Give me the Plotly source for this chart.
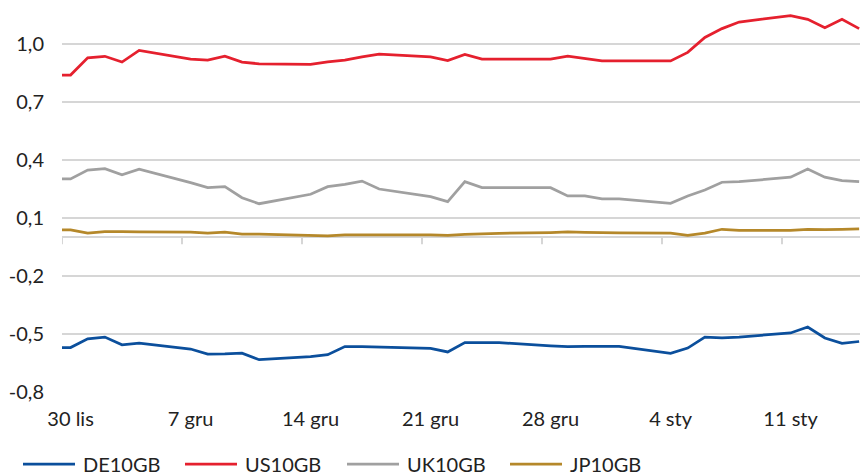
import pandas as pd
import plotly.graph_objects as go

# Trading days (holidays carry the previous close)
dates = [
    "2020-11-29", "2020-11-30", "2020-12-01", "2020-12-02", "2020-12-03", "2020-12-04",
    "2020-12-07", "2020-12-08", "2020-12-09", "2020-12-10", "2020-12-11",
    "2020-12-14", "2020-12-15", "2020-12-16", "2020-12-17", "2020-12-18",
    "2020-12-21", "2020-12-22", "2020-12-23", "2020-12-24", "2020-12-25",
    "2020-12-28", "2020-12-29", "2020-12-30", "2020-12-31", "2021-01-01",
    "2021-01-04", "2021-01-05", "2021-01-06", "2021-01-07", "2021-01-08",
    "2021-01-11", "2021-01-12", "2021-01-13", "2021-01-14", "2021-01-15",
]

de10 = [
    -0.570, -0.570, -0.525, -0.516, -0.556, -0.547,
    -0.578, -0.604, -0.603, -0.599, -0.633,
    -0.617, -0.607, -0.565, -0.566, -0.568,
    -0.575, -0.593, -0.545, -0.545, -0.545,
    -0.562, -0.566, -0.564, -0.564, -0.564,
    -0.600, -0.573, -0.516, -0.520, -0.516,
    -0.495, -0.464, -0.521, -0.549, -0.539,
]

us10 = [
    0.838, 0.838, 0.927, 0.935, 0.905, 0.965,
    0.920, 0.915, 0.935, 0.905, 0.896,
    0.893, 0.906, 0.915, 0.932, 0.946,
    0.932, 0.913, 0.944, 0.920, 0.920,
    0.920, 0.936, 0.924, 0.911, 0.911,
    0.911, 0.955, 1.032, 1.078, 1.112,
    1.145, 1.126, 1.082, 1.126, 1.078,
]

uk10 = [
    0.301, 0.301, 0.347, 0.354, 0.323, 0.352,
    0.282, 0.256, 0.261, 0.204, 0.173,
    0.222, 0.261, 0.273, 0.290, 0.249,
    0.210, 0.184, 0.287, 0.256, 0.256,
    0.256, 0.213, 0.213, 0.198, 0.198,
    0.175, 0.213, 0.244, 0.284, 0.287,
    0.310, 0.352, 0.310, 0.292, 0.287,
]

jp10 = [
    0.038, 0.038, 0.021, 0.029, 0.029, 0.027,
    0.026, 0.021, 0.026, 0.016, 0.016,
    0.012, 0.007, 0.012, 0.013, 0.012,
    0.012, 0.010, 0.015, 0.019, 0.020,
    0.024, 0.027, 0.025, 0.022, 0.022,
    0.021, 0.010, 0.021, 0.041, 0.035,
    0.035, 0.041, 0.039, 0.041, 0.043,
]

series_names = ["DE10GB", "US10GB", "UK10GB", "JP10GB"]
series_values = [de10, us10, uk10, jp10]
series_colors = ["#0b4f9c", "#e5202e", "#a0a0a0", "#b5882a"]

tick_dates = ["2020-11-30", "2020-12-07", "2020-12-14", "2020-12-21",
              "2020-12-28", "2021-01-04", "2021-01-11"]
tick_labels = ["30 lis", "7 gru", "14 gru", "21 gru", "28 gru", "4 sty", "11 sty"]

y_ticks = [-0.8, -0.5, -0.2, 0.1, 0.4, 0.7, 1.0]
y_labels = [f"{v:.1f}".replace(".", ",") for v in y_ticks]

W, H = 860, 475
ML, MR, MT, MB = 62, 0, 5, 83
PW, PH = W - ML - MR, H - MT - MB
Y_MIN, Y_MAX = -0.8, 1.2
FONT = "Lato, 'Liberation Sans', Arial, sans-serif"
TEXT = "#222222"
GRID = "#d6d6d6"

x_dates = pd.to_datetime(dates)
x_start = pd.Timestamp("2020-11-29 12:00")
x_end = x_start + pd.Timedelta(days=PW * 7 / 120)

fig = go.Figure()
for name, vals, col in zip(series_names, series_values, series_colors):
    fig.add_trace(go.Scatter(
        x=x_dates, y=vals, name=name, mode="lines",
        line=dict(color=col, width=2.75),
        showlegend=False,
    ))

# small tick marks hanging below the zero axis, on week boundaries
tick_len = 7 * (Y_MAX - Y_MIN) / PH
shapes = []
for t in tick_dates:
    tx = pd.Timestamp(t) - pd.Timedelta(hours=12)
    shapes.append(dict(
        type="line", xref="x", yref="y",
        x0=tx, x1=tx, y0=0, y1=-tick_len,
        line=dict(color=GRID, width=2),
    ))

# legend row along the bottom
annotations = []
leg_y_px = 464
leg_x_px = [23, 185, 347, 510]
seg_len = 52


def px_to_paper_x(px):
    return (px - ML) / PW


def px_to_paper_y(py):
    return (H - MB - py) / PH


for name, col, lx in zip(series_names, series_colors, leg_x_px):
    shapes.append(dict(
        type="line", xref="paper", yref="paper",
        x0=px_to_paper_x(lx), x1=px_to_paper_x(lx + seg_len),
        y0=px_to_paper_y(leg_y_px), y1=px_to_paper_y(leg_y_px),
        line=dict(color=col, width=2.75),
    ))
    annotations.append(dict(
        xref="paper", yref="paper",
        x=px_to_paper_x(lx + seg_len + 6), y=px_to_paper_y(leg_y_px),
        xanchor="left", yanchor="middle", showarrow=False,
        text=name, font=dict(family=FONT, size=20, color=TEXT),
    ))

fig.update_layout(
    width=W, height=H,
    margin=dict(l=ML, r=MR, t=MT, b=MB, pad=0),
    paper_bgcolor="white", plot_bgcolor="white",
    font=dict(family=FONT, size=20, color=TEXT),
    shapes=shapes,
    annotations=annotations,
    showlegend=False,
    xaxis=dict(
        type="date", range=[x_start, x_end],
        tickmode="array", tickvals=pd.to_datetime(tick_dates), ticktext=tick_labels,
        showgrid=False, showline=False, zeroline=False, ticks="",
        ticklabelstandoff=13, automargin=False,
        tickfont=dict(family=FONT, size=20, color=TEXT),
    ),
    yaxis=dict(
        range=[Y_MIN, Y_MAX],
        tickmode="array", tickvals=y_ticks, ticktext=y_labels,
        showgrid=True, gridcolor=GRID, gridwidth=1.75,
        zeroline=True, zerolinecolor=GRID, zerolinewidth=2,
        showline=False, ticks="",
        ticklabelstandoff=17, automargin=False,
        tickfont=dict(family=FONT, size=20, color=TEXT),
    ),
)

fig.write_html("out.html")
